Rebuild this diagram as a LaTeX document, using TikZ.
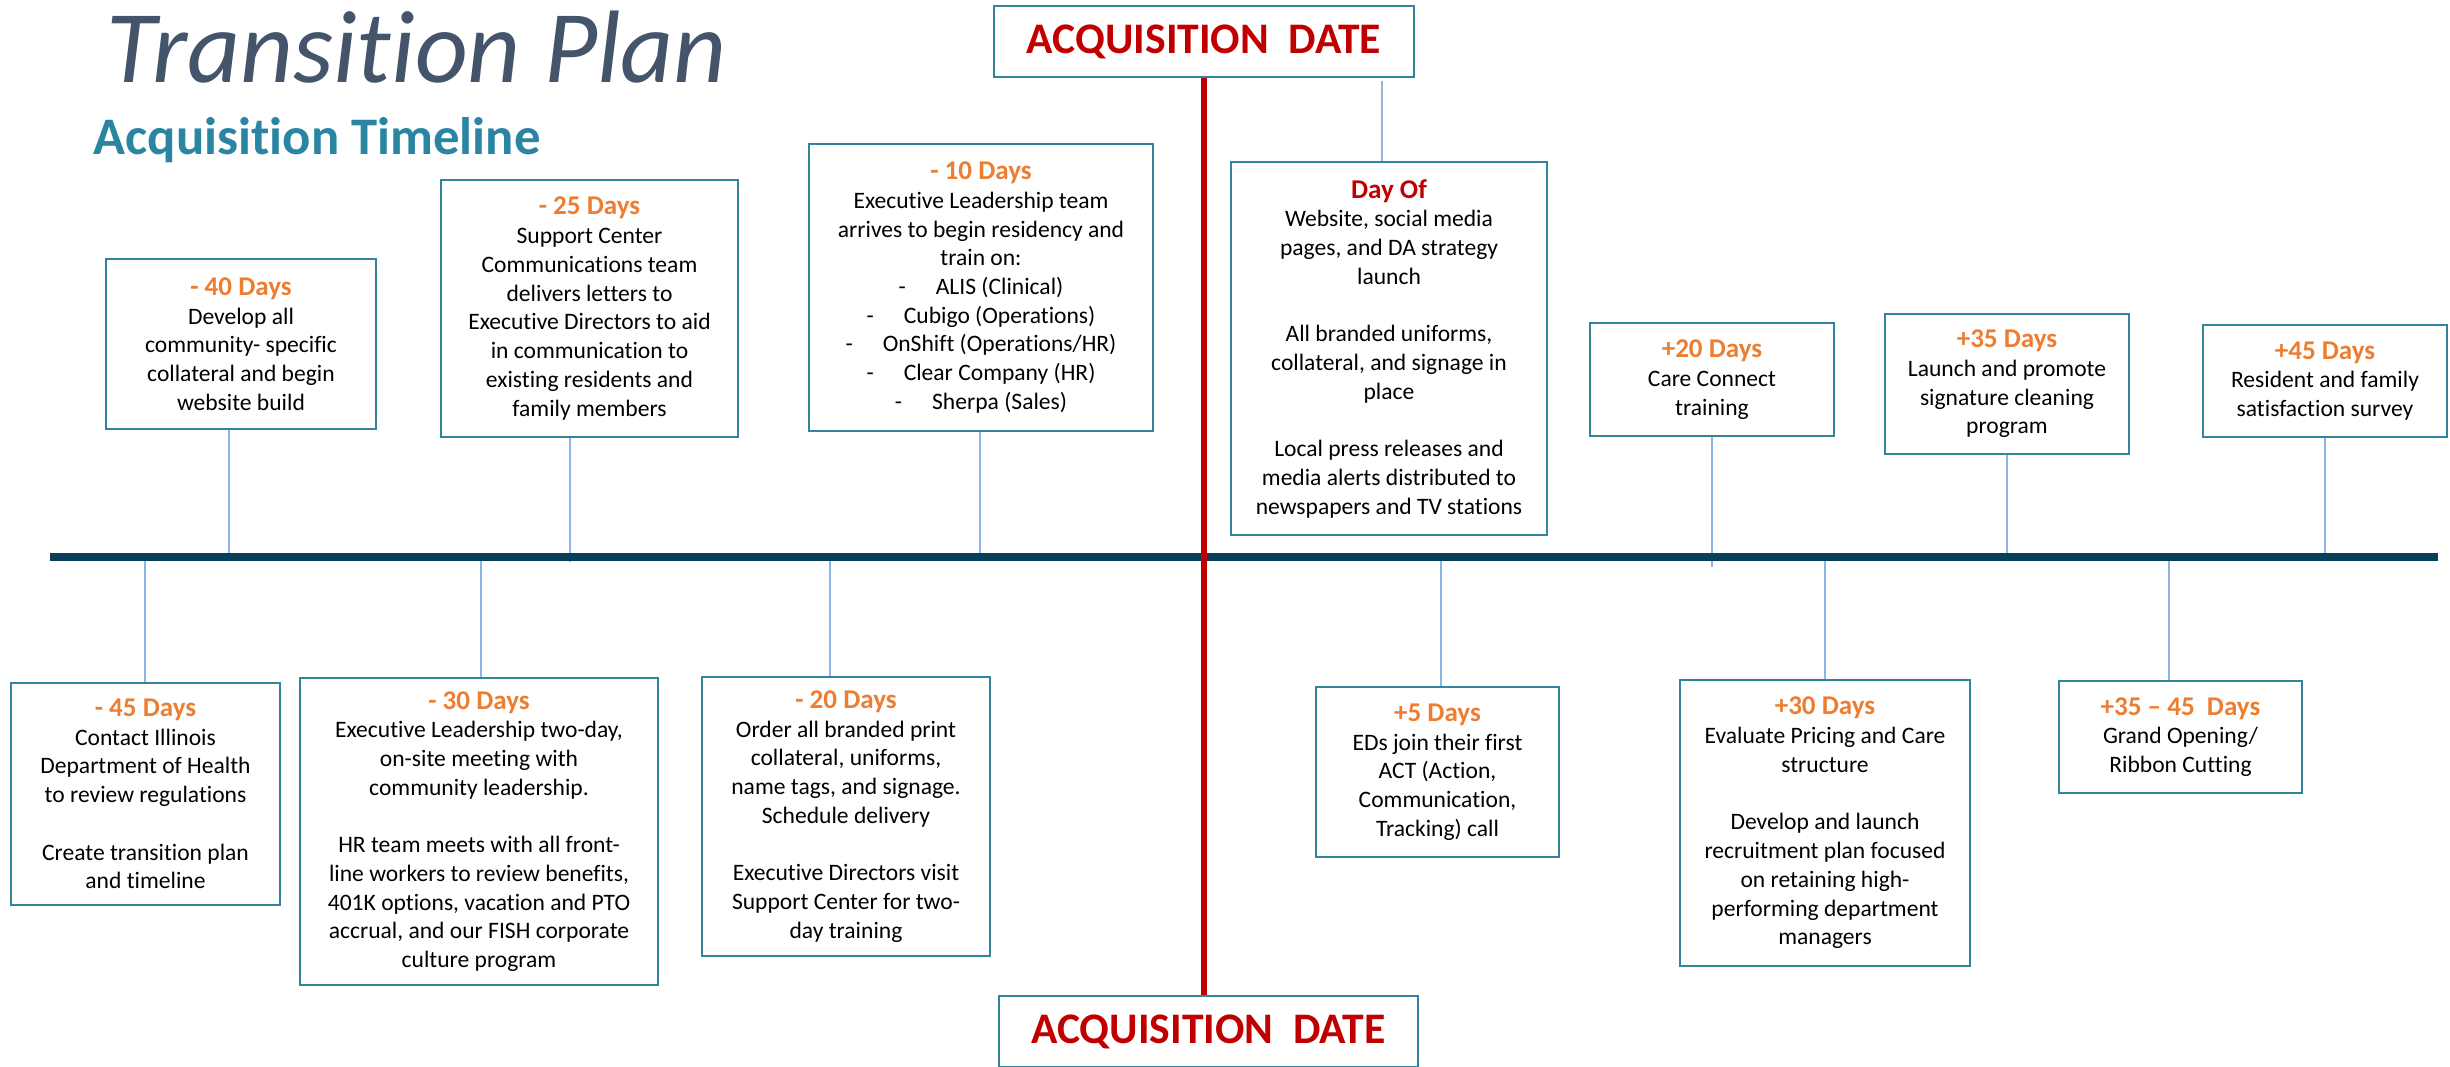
\documentclass[tikz,border=0pt]{standalone}
\usepackage{fontspec}
\setmainfont{Carlito}[RawFeature=-liga]
\definecolor{boxline}{HTML}{31859C}
\definecolor{connblue}{HTML}{8DB6E2}
\definecolor{tlnavy}{HTML}{0A3F5C}
\definecolor{acqred}{HTML}{C00000}
\definecolor{hdrorange}{HTML}{ED7D31}
\definecolor{titlecol}{HTML}{44546A}
\definecolor{subcol}{HTML}{2A85A3}
\newcommand\bodyfont{\fontsize{6.7}{8.17}\selectfont}
\newcommand\hdr[1]{{\fontsize{7.7}{8.17}\selectfont\bfseries\color{hdrorange}#1}}
\newcommand\blankline{\\[8.17pt]}
\newcommand\tabdash{-\hspace{0.3cm}}
\tikzset{
  box/.style={draw=boxline, line width=0.7pt, fill=white, align=center,
    inner sep=0pt, font=\bodyfont, text=black},
  conn/.style={draw=connblue, line width=0.55pt},
  timeline/.style={draw=tlnavy, line width=2.3pt},
  redline/.style={draw=acqred, line width=1.45pt},
  acqbox/.style={draw=boxline, line width=0.7pt, fill=white, inner sep=0pt,
    font=\fontsize{12.4}{14}\selectfont\bfseries, text=acqred}
}
\begin{document}
\begin{tikzpicture}[x=0.01cm,y=-0.01cm]
\fill[white] (0,0) rectangle (2450,1066);
\clip (0,0) rectangle (2450,1066);

% headings
\node[anchor=base west, inner sep=0pt, text=titlecol,
  font=\fontsize{29.3}{35}\selectfont\itshape] (title) at (106,82) {Transition Plan};
\node[anchor=base west, inner sep=0pt, text=subcol,
  font=\fontsize{15}{18}\selectfont\bfseries] (subtitle) at (93,154) {Acquisition Timeline};

% anchor points on the timeline
\coordinate (tl0) at (50,557);
\coordinate (tl1) at (2438,557);
\coordinate (k40) at (229,557);
\coordinate (k25) at (570,562);
\coordinate (k10) at (980,557);
\coordinate (k20) at (1712,567);
\coordinate (k35) at (2007,557);
\coordinate (k45) at (2325,557);
\coordinate (km45) at (145,557);
\coordinate (km30) at (481,557);
\coordinate (km20) at (830,557);
\coordinate (kp5) at (1441,557);
\coordinate (kp30) at (1825,557);
\coordinate (kp3545) at (2169,557);
\coordinate (cday) at (1382,81);

% acquisition date boxes
\node[acqbox, minimum width=4.20cm, minimum height=0.71cm] (acqtop) at (1204,41.5)
  {ACQUISITION\ \ DATE};
\node[acqbox, minimum width=4.19cm, minimum height=0.71cm] (acqbot) at (1208.5,1031.5)
  {ACQUISITION\ \ DATE};

% events before the timeline (top row)
\node[box, minimum width=2.70cm, minimum height=1.70cm] (m40) at (241,344)
  {\hdr{- 40 Days}\\Develop all\\community- specific\\collateral and begin\\website build};
\node[box, minimum width=2.97cm, minimum height=2.57cm] (m25) at (589.5,308.5)
  {\hdr{- 25 Days}\\Support Center\\Communications team\\delivers letters to\\Executive Directors to aid\\in communication to\\existing residents and\\family members};
\node[box, minimum width=3.44cm, minimum height=2.87cm] (m10) at (981,287.5)
  {\hdr{- 10 Days}\\Executive Leadership team\\arrives to begin residency and\\train on:\\\tabdash ALIS (Clinical)\\\tabdash Cubigo (Operations)\\\tabdash OnShift (Operations/HR)\\\tabdash Clear Company (HR)\\\tabdash Sherpa (Sales)};
\node[box, minimum width=3.16cm, minimum height=3.73cm] (dayof) at (1389,348.5)
  {{\fontsize{7.7}{8.17}\selectfont\bfseries\color{acqred}Day Of}\\Website, social media\\pages, and DA strategy\\launch\blankline All branded uniforms,\\collateral, and signage in\\place\blankline Local press releases and\\media alerts distributed to\\newspapers and TV stations};
\node[box, minimum width=2.44cm, minimum height=1.13cm] (p20) at (1712,379.5)
  {\hdr{+20 Days}\\Care Connect\\training};
\node[box, minimum width=2.44cm, minimum height=1.40cm] (p35) at (2007,384)
  {\hdr{+35 Days}\\Launch and promote\\signature cleaning\\program};
\node[box, minimum width=2.44cm, minimum height=1.12cm] (p45) at (2325,381)
  {\hdr{+45 Days}\\Resident and family\\satisfaction survey};

% events bottom row
\node[box, minimum width=2.69cm, minimum height=2.22cm] (m45) at (145.5,794)
  {\hdr{- 45 Days}\\Contact Illinois\\Department of Health\\to review regulations\blankline Create transition plan\\and timeline};
\node[box, minimum width=3.58cm, minimum height=3.07cm] (m30) at (479,831.5)
  {\hdr{- 30 Days}\\Executive Leadership two-day,\\on-site meeting with\\community leadership.\blankline HR team meets with all front-\\line workers to review benefits,\\401K options, vacation and PTO\\accrual, and our FISH corporate\\culture program};
\node[box, minimum width=2.88cm, minimum height=2.79cm] (m20) at (846,816.5)
  {\hdr{- 20 Days}\\Order all branded print\\collateral, uniforms,\\name tags, and signage.\\Schedule delivery\blankline Executive Directors visit\\Support Center for two-\\day training};
\node[box, minimum width=2.43cm, minimum height=1.70cm] (p5) at (1437.5,772)
  {\hdr{+5 Days}\\EDs join their first\\ACT (Action,\\Communication,\\Tracking) call};
\node[box, minimum width=2.90cm, minimum height=2.86cm] (p30) at (1825,823)
  {\hdr{+30 Days}\\Evaluate Pricing and Care\\structure\blankline Develop and launch\\recruitment plan focused\\on retaining high-\\performing department\\managers};
\node[box, minimum width=2.43cm, minimum height=1.12cm] (p3545) at (2180.5,737)
  {\hdr{+35 -- 45\ \ Days}\\Grand Opening/\\Ribbon Cutting};

% connectors
\draw[conn] (m40.south -| k40) -- (k40);
\draw[conn] (m25.south -| k25) -- (k25);
\draw[conn] (m10.south -| k10) -- (k10);
\draw[conn] (p20.south -| k20) -- (k20);
\draw[conn] (p35.south -| k35) -- (k35);
\draw[conn] (p45.south -| k45) -- (k45);
\draw[conn] (km45) -- (km45 |- m45.north);
\draw[conn] (km30) -- (km30 |- m30.north);
\draw[conn] (km20) -- (km20 |- m20.north);
\draw[conn] (kp5) -- (kp5 |- p5.north);
\draw[conn] (kp30) -- (kp30 |- p30.north);
\draw[conn] (kp3545) -- (kp3545 |- p3545.north);
\draw[conn] (cday) -- (cday |- dayof.north);

% main timeline and acquisition marker
\draw[timeline] (tl0) -- (tl1);
\draw[redline] (acqtop.south) -- (acqtop.south |- acqbot.north);
\end{tikzpicture}
\end{document}
